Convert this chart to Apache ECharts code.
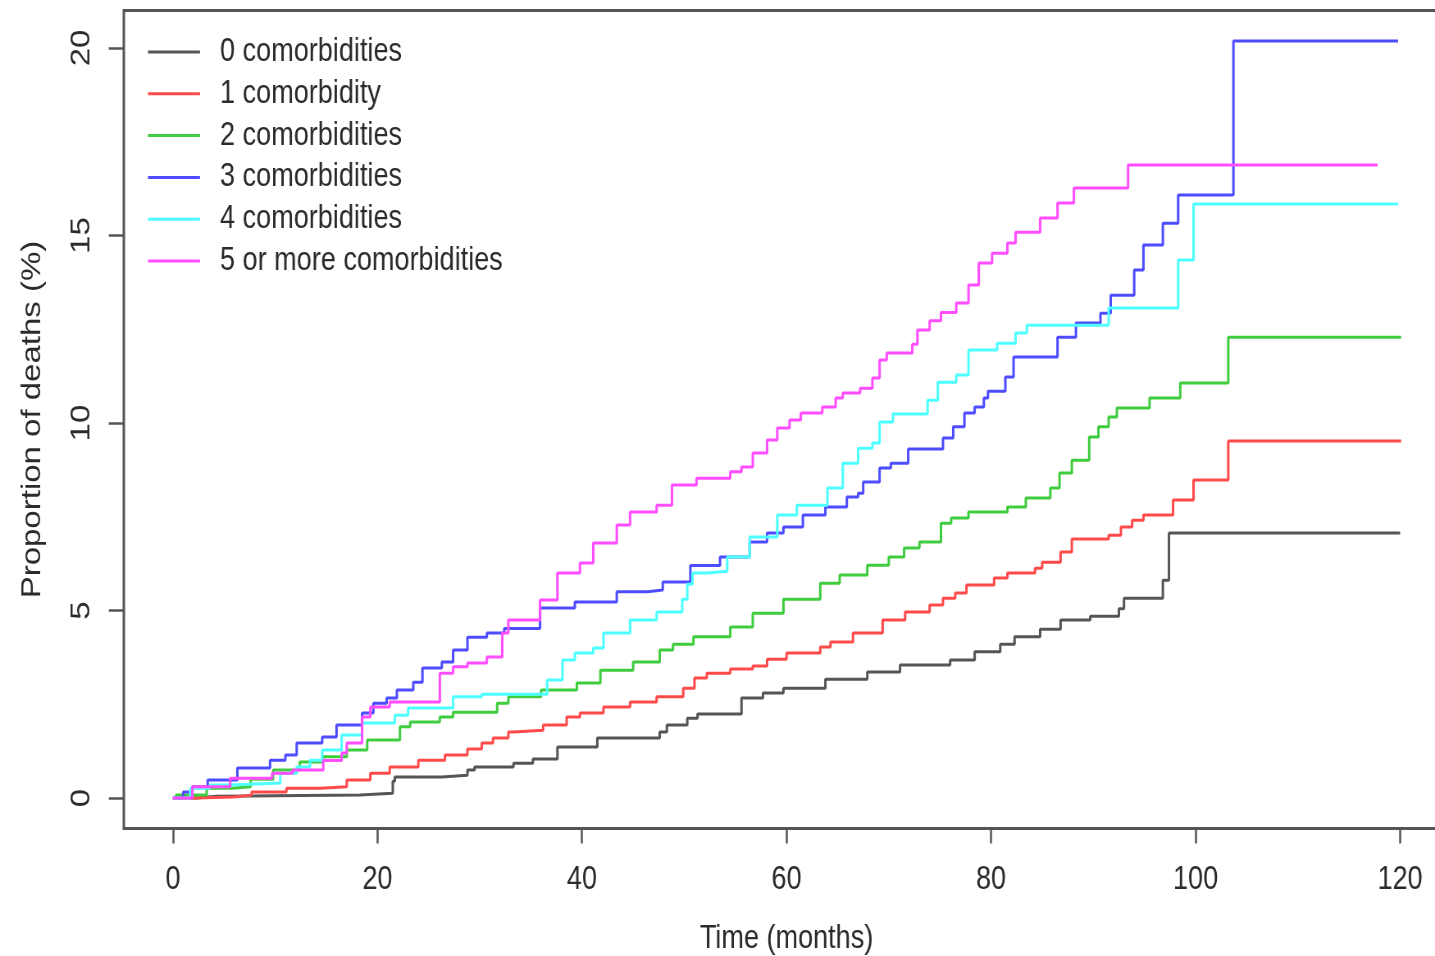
<!DOCTYPE html>
<html>
<head>
<meta charset="utf-8">
<script src="https://cdn.jsdelivr.net/npm/echarts@6/dist/echarts.min.js"></script>
<style>
  html, body { margin: 0; padding: 0; background: #fff; width: 1435px; height: 956px; overflow: hidden; }
  /* the source figure is squeezed horizontally, so draw wide and squeeze */
  #chart { width: 1780px; height: 956px; transform: scaleX(0.82); transform-origin: 0 0; }
</style>
</head>
<body>
<div id="chart"></div>
<script>
// tick labels
const xTicks = [0, 20, 40, 60, 80, 100, 120];
const yTicks = [0, 5, 10, 15, 20];

const groupNames = [
  "0 comorbidities",
  "1 comorbidity",
  "2 comorbidities",
  "3 comorbidities",
  "4 comorbidities",
  "5 or more comorbidities"
];

// [month, % deaths] - step starts at that month
const comorb0 = [[0,0],[2.3,0.05],[4.3,0.08],[18.3,0.13],[21.5,0.45],[21.7,0.56],[26.3,0.61],[28.8,0.75],[29.5,0.83],[33.3,0.93],[35.2,1.04],[37.6,1.36],[41.5,1.6],[47.6,1.76],[48.3,1.95],[50.3,2.13],[51.3,2.24],[55.6,2.67],[57.7,2.8],[59.7,2.93],[63.8,3.17],[67.9,3.36],[71.1,3.55],[76.0,3.68],[78.4,3.9],[80.9,4.1],[82.3,4.3],[84.8,4.5],[86.8,4.75],[89.7,4.85],[92.5,5.05],[93.0,5.33],[96.8,5.81],[97.4,7.07],[120,7.07]];
const comorb1 = [[0,0],[2.3,0.03],[5.9,0.08],[7.7,0.16],[11.1,0.26],[14.4,0.3],[17.0,0.48],[19.3,0.66],[21.2,0.83],[24.0,1.01],[26.6,1.15],[28.8,1.31],[30.2,1.47],[31.3,1.6],[32.8,1.76],[33.3,1.81],[36.2,1.95],[38.5,2.16],[39.8,2.27],[42.1,2.43],[44.7,2.56],[47.3,2.7],[49.9,2.93],[51.0,3.2],[52.2,3.33],[54.5,3.44],[56.7,3.52],[58.1,3.7],[60.0,3.87],[63.3,4.03],[64.3,4.16],[66.5,4.4],[69.4,4.75],[71.6,4.96],[74.0,5.15],[75.3,5.33],[76.5,5.47],[77.6,5.68],[80.3,5.87],[81.6,6.0],[84.3,6.13],[85.0,6.29],[86.8,6.56],[87.9,6.91],[91.5,7.01],[92.7,7.23],[93.8,7.41],[94.9,7.55],[97.8,7.95],[99.8,8.48],[103.2,9.52],[120.1,9.52]];
const comorb2 = [[0,0],[0.3,0.08],[3.3,0.26],[5.8,0.3],[7.6,0.5],[9.8,0.75],[12.4,0.96],[14.7,1.1],[17.0,1.28],[19.0,1.55],[22.2,1.9],[23.2,2.03],[26.1,2.16],[27.4,2.29],[31.7,2.53],[32.8,2.7],[36.0,2.88],[39.5,3.07],[41.8,3.41],[45.0,3.63],[47.6,3.95],[48.9,4.1],[50.9,4.3],[54.5,4.56],[56.7,4.93],[59.7,5.3],[63.3,5.73],[65.2,5.95],[67.9,6.21],[70.0,6.43],[71.5,6.67],[73.0,6.83],[75.1,7.33],[76.1,7.47],[77.8,7.63],[81.6,7.76],[83.4,8.0],[85.8,8.27],[86.7,8.67],[87.9,9.01],[89.6,9.63],[90.5,9.9],[91.5,10.16],[92.3,10.4],[95.5,10.67],[98.5,11.07],[103.2,12.29],[120.1,12.29]];
const comorb3 = [[0,0],[1.0,0.16],[1.9,0.3],[3.4,0.48],[6.3,0.8],[9.5,1.01],[11.0,1.15],[12.1,1.47],[14.6,1.63],[16.0,1.95],[18.5,2.27],[19.6,2.53],[20.9,2.67],[21.9,2.88],[23.5,3.09],[24.4,3.47],[26.3,3.63],[27.4,3.95],[28.8,4.29],[30.7,4.4],[32.4,4.52],[35.9,5.07],[39.3,5.23],[43.4,5.5],[46.4,5.55],[47.9,5.76],[50.6,6.2],[53.5,6.43],[56.4,6.83],[58.1,7.07],[59.7,7.23],[61.6,7.55],[63.8,7.76],[65.9,8.03],[67.0,8.13],[67.5,8.43],[69.1,8.8],[70.2,8.93],[71.9,9.31],[75.3,9.6],[76.3,9.9],[77.4,10.27],[78.4,10.43],[79.3,10.67],[79.7,10.85],[81.4,11.23],[82.2,11.76],[86.5,12.29],[88.3,12.67],[90.7,12.93],[91.7,13.41],[94.0,14.08],[94.9,14.75],[96.8,15.33],[98.3,16.08],[103.7,20.19],[119.8,20.19]];
const comorb4 = [[0,0],[1.7,0.26],[3.6,0.35],[5.6,0.4],[10.5,0.66],[12.1,0.83],[13.4,1.01],[14.6,1.28],[16.5,1.68],[18.5,2.0],[21.7,2.21],[23.0,2.4],[27.4,2.7],[30.2,2.77],[36.6,3.15],[38.1,3.68],[39.3,3.87],[41.1,4.0],[42.1,4.4],[44.7,4.75],[47.3,4.96],[49.8,5.3],[50.3,5.7],[50.8,6.0],[52.3,6.05],[54.2,6.43],[56.4,6.96],[59.1,7.55],[61.0,7.81],[64.0,8.27],[65.5,8.93],[67.0,9.33],[68.4,9.47],[69.1,10.03],[70.4,10.24],[73.8,10.61],[74.8,11.09],[76.6,11.28],[77.8,11.95],[80.6,12.13],[82.4,12.4],[83.5,12.61],[91.5,13.07],[98.3,14.35],[99.8,15.84],[119.8,15.84]];
const comorb5 = [[0,0],[1.9,0.3],[5.6,0.53],[9.7,0.66],[11.7,0.75],[14.7,1.0],[16.5,1.2],[17.0,1.47],[18.5,2.16],[19.3,2.43],[21.2,2.56],[26.1,3.33],[27.4,3.5],[28.8,3.6],[30.7,3.76],[32.2,4.4],[32.8,4.75],[35.9,5.28],[37.6,6.0],[39.8,6.27],[41.1,6.8],[43.4,7.28],[44.7,7.63],[47.3,7.81],[48.8,8.35],[51.2,8.53],[54.5,8.7],[55.6,8.83],[56.7,9.2],[58.1,9.55],[59.1,9.87],[60.3,10.08],[61.4,10.27],[63.5,10.43],[64.8,10.67],[65.5,10.8],[67.2,10.93],[68.4,11.2],[69.1,11.68],[69.8,11.87],[72.3,12.1],[72.8,12.48],[74.0,12.73],[75.1,12.95],[76.6,13.2],[77.8,13.68],[78.8,14.27],[80.1,14.53],[81.6,14.8],[82.4,15.09],[84.8,15.47],[86.5,15.87],[88.1,16.27],[93.4,16.88],[117.8,16.88]];

const curves = [comorb0, comorb1, comorb2, comorb3, comorb4, comorb5];
const colors = ["#555555", "#ff4a4a", "#3fcc3f", "#4d4dff", "#4dffff", "#ff4dff"];

const font = "'Liberation Sans', Arial, sans-serif";
const ink = "#2b2b2b";

const chart = echarts.init(document.getElementById("chart"));

chart.setOption({
  backgroundColor: "#fff",
  animation: false,
  color: colors,
  grid: {
    left: 151,
    right: 12.7,
    top: 10.5,
    bottom: 127.5,
    outerBoundsMode: "none",
    containLabel: false,
    show: true,
    borderColor: "#555",
    borderWidth: 3,
    backgroundColor: "transparent"
  },
  legend: {
    orient: "vertical",
    left: 180.5,
    top: 35,
    padding: 0,
    itemGap: 7.8,
    itemWidth: 63.4,
    itemHeight: 3,
    icon: "rect",
    data: groupNames,
    textStyle: {
      fontFamily: font,
      fontSize: 33,
      lineHeight: 34,
      color: ink,
      padding: [0, 0, 0, 19.4]
    }
  },
  xAxis: {
    type: "value",
    min: -4.8,
    max: 124.8,
    name: "Time (months)",
    nameLocation: "middle",
    nameGap: 94,
    nameTextStyle: { fontFamily: font, fontSize: 33, color: ink },
    axisLine: { show: false, onZero: false },
    axisTick: {
      show: true,
      customValues: xTicks,
      length: 15,
      lineStyle: { color: "#555", width: 2.5 }
    },
    axisLabel: {
      customValues: xTicks,
      margin: 35,
      fontFamily: font,
      fontSize: 33,
      color: ink
    },
    splitLine: { show: false }
  },
  yAxis: {
    type: "value",
    min: -0.81,
    max: 21.0,
    name: "Proportion of deaths (%)",
    nameLocation: "middle",
    nameGap: 94.5,
    nameTextStyle: { fontFamily: font, fontSize: 33, color: ink },
    axisLine: { show: false, onZero: false },
    axisTick: {
      show: true,
      customValues: yTicks,
      length: 18.3,
      lineStyle: { color: "#555", width: 2.5 }
    },
    axisLabel: {
      customValues: yTicks,
      rotate: 90,
      margin: 34.5,
      fontFamily: font,
      fontSize: 33,
      color: ink
    },
    splitLine: { show: false }
  },
  series: curves.map((pts, i) => ({
    name: groupNames[i],
    type: "line",
    step: "end",
    data: pts,
    showSymbol: false,
    symbol: "none",
    lineStyle: { width: 3, color: colors[i] },
    itemStyle: { color: colors[i] },
    emphasis: { disabled: true }
  }))
});
</script>
</body>
</html>
